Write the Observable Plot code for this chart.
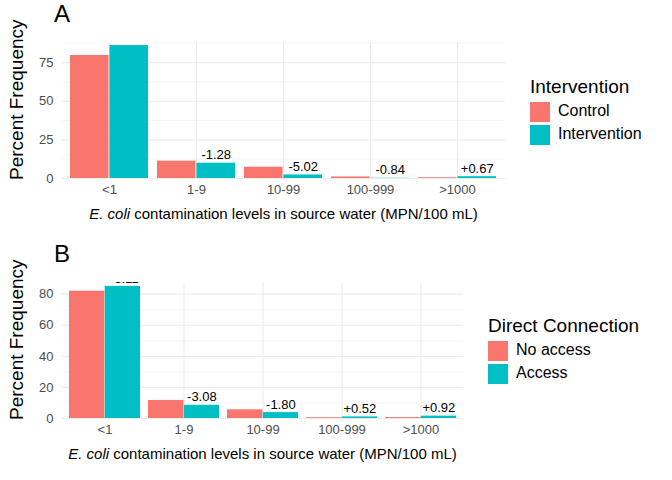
<!DOCTYPE html>
<html><head><meta charset="utf-8">
<script src="https://cdn.jsdelivr.net/npm/d3@7"></script>
<script src="https://cdn.jsdelivr.net/npm/@observablehq/plot@0.6"></script>
<style>
body{margin:0;font-family:"Liberation Sans",Arial,sans-serif;background:#fff}
#wrap{position:relative;width:672px;height:480px}
.abs{position:absolute;white-space:nowrap}
.ttl{font-size:24px}
.ylab{font-size:19px;transform:rotate(-90deg);transform-origin:left top}
.xlab{font-size:15px;transform:translateX(-50%)}
.lgt{font-size:19px}
.sw{display:inline-block;width:20px;height:20px;vertical-align:middle;margin-right:8px}
.lgi{font-size:16px;height:23px}
</style></head><body>
<div id="wrap"></div>
<script>
const levels = ["<1", "1-9", "10-99", "100-999", ">1000"];
const groupsA = ["Control", "Intervention"];
const controlA = [79.6, 11.2, 7.3, 1.0, 0.5];
const interventionA = [86.0, 9.9, 2.3, 0.16, 1.17];
const labelsA = ["+6.43", "-1.28", "-5.02", "-0.84", "+0.67"];
const groupsB = ["No access", "Access"];
const noAccessB = [81.9, 11.6, 5.6, 0.5, 0.6];
const accessB = [85.0, 8.5, 3.8, 1.02, 1.52];
const labelsB = ["+3.11", "-3.08", "-1.80", "+0.52", "+0.92"];
const colors = ["#F8766D", "#00BFC4"];
const wrap = document.getElementById("wrap");

function el(cls, html, x, y) {
  const d = document.createElement("div");
  d.className = "abs " + cls; d.innerHTML = html;
  d.style.left = x + "px"; d.style.top = y + "px";
  wrap.appendChild(d); return d;
}

function panel({groups, a, b, labels, top, width, ymax, ticks, minor, title, legendTitle, lx, ly}) {
  const ctl = levels.map((l, i) => ({level: l, v: a[i]}));
  const trt = levels.map((l, i) => ({level: l, v: b[i], t: labels[i]}));
  const mL = 62, mR = 5, pi = 0.1, po = 0.075;
  const W = width - mL - mR;
  const step = W / (5 - pi + 2 * po);
  const half = step * (1 - pi) / 2;
  const chart = Plot.plot({
    width, height: 173, marginLeft: mL, marginRight: mR, marginTop: 12, marginBottom: 25,
    style: {fontFamily: "Liberation Sans, Arial, sans-serif", fontSize: "13px", color: "#4d4d4d"},
    x: {domain: levels, paddingInner: pi, paddingOuter: po, label: null, tickSize: 0, tickPadding: 6},
    y: {domain: [0, ymax], ticks, label: null, tickSize: 0},
    marks: [
      Plot.ruleY(minor, {stroke: "#f0f0f0", strokeWidth: 0.6}),
      Plot.ruleY(ticks, {stroke: "#ebebeb", strokeWidth: 1.1}),
      Plot.ruleX(levels, {stroke: "#ebebeb", strokeWidth: 1.1}),
      Plot.barY(ctl, {x: "level", y: "v", fill: colors[0], insetRight: half}),
      Plot.barY(trt, {x: "level", y: "v", fill: colors[1], insetLeft: half}),
      Plot.text(trt, {x: "level", y: "v", text: "t", dx: half / 2, dy: -8, fill: "black", fontSize: 13, clip: true})
    ]
  });
  chart.style.position = "absolute"; chart.style.left = "0px"; chart.style.top = top + "px";
  wrap.appendChild(chart);
  el("ttl", title, 54, top - 30);
  el("ylab", "Percent Frequency", 6, top + 12 + 138);
  el("xlab", "<i>E. coli</i> contamination levels in source water (MPN/100 mL)", mL + W / 2, top + 175);
  const lg = el("", "", lx, ly);
  lg.innerHTML = `<div class="lgt" style="margin-bottom:4px">${legendTitle}</div>` +
    groups.map((g, i) => `<div class="lgi"><span class="sw" style="background:${colors[i]}"></span>${g}</div>`).join("");
}

panel({groups: groupsA, a: controlA, b: interventionA, labels: labelsA, top: 30, width: 510, ymax: 88,
  ticks: [0, 25, 50, 75], minor: [12.5, 37.5, 62.5, 87.5], title: "A", legendTitle: "Intervention", lx: 530, ly: 76});
panel({groups: groupsB, a: noAccessB, b: accessB, labels: labelsB, top: 270, width: 468, ymax: 87.5,
  ticks: [0, 20, 40, 60, 80], minor: [10, 30, 50, 70], title: "B", legendTitle: "Direct Connection", lx: 488, ly: 315});
</script>
</body></html>
